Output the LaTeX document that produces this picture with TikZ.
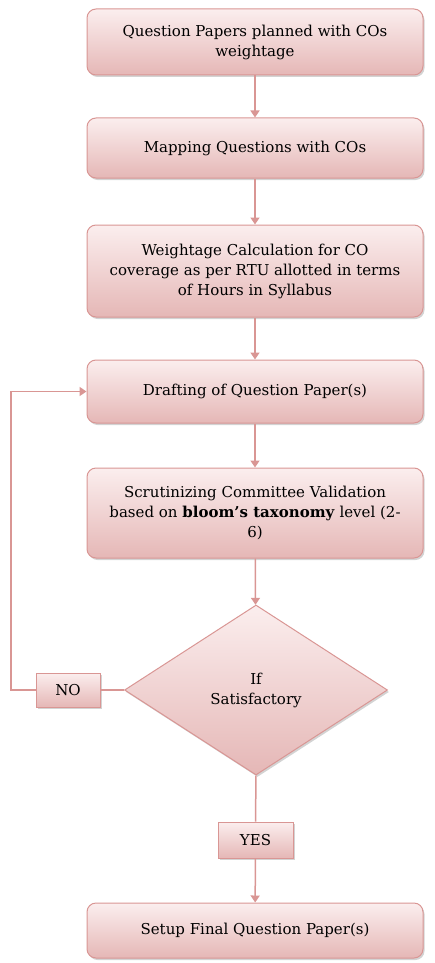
\documentclass[tikz,border=0pt]{standalone}
\usepackage{fontspec}
\setmainfont{DejaVu Serif}
\usetikzlibrary{shapes.geometric,arrows.meta,shadows}
\definecolor{boxtop}{RGB}{251,238,238}
\definecolor{boxbot}{RGB}{229,183,182}
\definecolor{boxline}{RGB}{217,150,148}
\tikzset{
  stepbox/.style={draw=boxline, line width=1pt, rounded corners=9pt,
    top color=boxtop, bottom color=boxbot,
    drop shadow={opacity=0.35, shadow xshift=1.5pt, shadow yshift=-2pt},
    minimum width=336pt, align=center, inner sep=2pt,
    font=\fontsize{15}{20}\selectfont},
  tagbox/.style={draw=boxline, line width=1pt,
    top color=boxtop, bottom color=boxbot,
    drop shadow={opacity=0.35, shadow xshift=1.5pt, shadow yshift=-2pt},
    align=center, inner sep=0pt, font=\fontsize{15}{20}\selectfont},
  decision/.style={diamond, draw=boxline, line width=1pt,
    top color=boxtop, bottom color=boxbot,
    drop shadow={opacity=0.35, shadow xshift=1.5pt, shadow yshift=-2pt},
    aspect=1.547, minimum width=263pt, minimum height=170pt, inner sep=0pt,
    align=center, font=\fontsize{15}{20}\selectfont},
  link/.style={draw=boxline, line width=1.5pt},
  flow/.style={link, -{Triangle[length=7pt,width=9pt]}}
}
\begin{document}
\begin{tikzpicture}[x=1pt,y=1pt]
  \useasboundingbox (0,0) rectangle (434,-963);

  \node[stepbox, minimum height=66pt] (plan) at (255,-42)
    {Question Papers planned with COs\\weightage};
  \node[stepbox, minimum height=60pt] (map) at (255,-148)
    {Mapping Questions with COs};
  \node[stepbox, minimum height=92pt] (calc) at (255,-271)
    {Weightage Calculation for CO\\coverage as per RTU allotted in terms\\of Hours in Syllabus};
  \node[stepbox, minimum height=63pt] (draft) at (255,-391.5)
    {Drafting of Question Paper(s)};
  \node[stepbox, minimum height=90pt] (scrut) at (255,-513)
    {Scrutinizing Committee Validation\\based on \textbf{bloom's taxonomy} level (2-\\6)};
  \node[decision] (check) at (256,-690) {If\\Satisfactory};
  \node[tagbox, minimum width=64pt, minimum height=34pt] (no) at (68,-690) {NO};
  \node[tagbox, minimum width=75pt, minimum height=36pt] (yes) at (255.5,-840) {YES};
  \node[stepbox, minimum height=55pt] (final) at (255,-930.5)
    {Setup Final Question Paper(s)};
  \coordinate (loopbot) at (11,-690);
  \coordinate (looptop) at (11,-391.5);

  \draw[flow] (plan) -- (map);
  \draw[flow] (map) -- (calc);
  \draw[flow] (calc) -- (draft);
  \draw[flow] (draft) -- (scrut);
  \draw[flow] (scrut) -- (check);
  \draw[link] (check.south) -- (yes.north);
  \draw[flow] (yes) -- (final);
  \draw[link] (check.west) -- (no.east);
  \draw[flow] (no.west) -- (loopbot) -- (looptop) -- (draft.west);
\end{tikzpicture}
\end{document}
